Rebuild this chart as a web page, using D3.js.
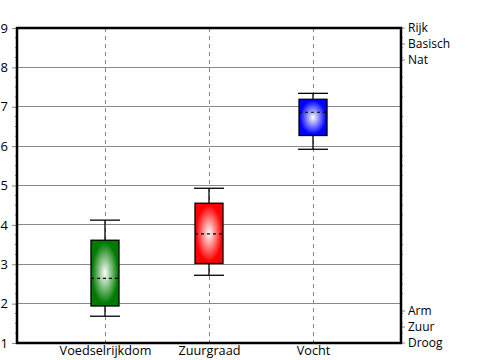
<!DOCTYPE html>
<html><head><meta charset="utf-8">
<script src="https://cdn.jsdelivr.net/npm/d3@7"></script>
<style>body{margin:0;background:#fff}svg{display:block}</style>
</head><body>
<svg id="c" width="500" height="360"></svg>
<script>
const categories = ["Voedselrijkdom", "Zuurgraad", "Vocht"];
const colors = ["#007a00", "#ff0000", "#0000ff"];
const whiskerLow = [1.68, 2.72, 5.92];
const q1 = [1.94, 3.02, 6.27];
const median = [2.64, 3.77, 6.86];
const q3 = [3.61, 4.55, 7.19];
const whiskerHigh = [4.12, 4.93, 7.34];
const yTicks = [1, 2, 3, 4, 5, 6, 7, 8, 9];
const rightTop = ["Rijk", "Basisch", "Nat"];
const rightBottom = ["Arm", "Zuur", "Droog"];

const svg = d3.select("#c");
const L = 17, R = 401, T = 28, B = 343;
const font = "'Open Sans', sans-serif";
const x = d3.scalePoint().domain(categories).range([L, R]).padding(0.846);
const y = d3.scaleLinear().domain([1, 9]).range([B, T]);

const defs = svg.append("defs");
colors.forEach((c, i) => {
  const g = defs.append("radialGradient").attr("id", "g" + i).attr("cx", "50%").attr("cy", "50%").attr("r", "55%");
  g.append("stop").attr("offset", "0%").attr("stop-color", "#ffffff");
  g.append("stop").attr("offset", "85%").attr("stop-color", c);
  g.append("stop").attr("offset", "100%").attr("stop-color", c);
});

// horizontal grid
svg.append("g").selectAll("line").data(yTicks.slice(1, -1)).join("line")
  .attr("x1", L).attr("x2", R).attr("y1", d => y(d)).attr("y2", d => y(d))
  .attr("stroke", "#888").attr("stroke-width", 1).attr("shape-rendering", "crispEdges");
// vertical dashed grid
svg.append("g").selectAll("line").data(categories).join("line")
  .attr("x1", d => Math.round(x(d)) + 0.5).attr("x2", d => Math.round(x(d)) + 0.5).attr("y1", T).attr("y2", B)
  .attr("stroke", "#888").attr("stroke-dasharray", "4,4").attr("stroke-width", 1);

// left axis
const yAxis = d3.axisLeft(y).tickValues(yTicks).tickSize(5).tickPadding(4).tickFormat(d3.format("d"));
const ga = svg.append("g").attr("transform", `translate(${L},0)`).call(yAxis);
ga.select(".domain").remove();
ga.selectAll(".tick line").attr("stroke", "#888");
ga.selectAll("text").attr("font-family", font).attr("font-size", 13).attr("fill", "#000");
// minor ticks
const minor = d3.range(1, 9.001, 0.25).filter(v => Math.abs(v - Math.round(v)) > 0.01);
svg.append("g").selectAll("line").data(minor).join("line")
  .attr("x1", L - 2).attr("x2", L).attr("y1", d => y(d)).attr("y2", d => y(d))
  .attr("stroke", "#888");
svg.append("g").selectAll("line").data(minor).join("line")
  .attr("x1", R).attr("x2", R + 2).attr("y1", d => y(d)).attr("y2", d => y(d))
  .attr("stroke", "#888");

// right labels
const rLabels = rightTop.map((t, i) => ({t, yy: T + i * 16})).concat(rightBottom.map((t, i) => ({t, yy: B - (2 - i) * 16})));
svg.append("g").selectAll("line").data(rLabels).join("line")
  .attr("x1", R).attr("x2", R + 4).attr("y1", d => d.yy).attr("y2", d => d.yy).attr("stroke", "#888");
svg.append("g").selectAll("text").data(rLabels).join("text")
  .attr("x", R + 7).attr("y", d => d.yy).attr("dy", "0.35em")
  .attr("font-family", font).attr("font-size", 12).text(d => d.t);

// x labels
const xAxis = d3.axisBottom(x).tickSize(0).tickPadding(3);
const gx = svg.append("g").attr("transform", `translate(0,${B})`).call(xAxis);
gx.select(".domain").remove();
gx.selectAll("text").attr("font-family", font).attr("font-size", 12.7).attr("fill", "#000");

// frame
svg.append("rect").attr("x", L).attr("y", T).attr("width", R - L).attr("height", B - T)
  .attr("fill", "none").attr("stroke", "#000").attr("stroke-width", 2.5);

// boxes
const bw = 28, cw = 30;
const boxes = svg.append("g").selectAll("g").data(categories).join("g");
boxes.append("line").attr("x1", d => x(d)).attr("x2", d => x(d))
  .attr("y1", (d, i) => y(whiskerHigh[i])).attr("y2", (d, i) => y(q3[i])).attr("stroke", "#000").attr("stroke-width", 1.3);
boxes.append("line").attr("x1", d => x(d)).attr("x2", d => x(d))
  .attr("y1", (d, i) => y(whiskerLow[i])).attr("y2", (d, i) => y(q1[i])).attr("stroke", "#000").attr("stroke-width", 1.3);
boxes.append("line").attr("x1", d => x(d) - cw / 2).attr("x2", d => x(d) + cw / 2)
  .attr("y1", (d, i) => y(whiskerHigh[i])).attr("y2", (d, i) => y(whiskerHigh[i])).attr("stroke", "#000").attr("stroke-width", 1.3);
boxes.append("line").attr("x1", d => x(d) - cw / 2).attr("x2", d => x(d) + cw / 2)
  .attr("y1", (d, i) => y(whiskerLow[i])).attr("y2", (d, i) => y(whiskerLow[i])).attr("stroke", "#000").attr("stroke-width", 1.3);
boxes.append("rect").attr("x", d => x(d) - bw / 2).attr("width", bw)
  .attr("y", (d, i) => y(q3[i])).attr("height", (d, i) => y(q1[i]) - y(q3[i]))
  .attr("fill", (d, i) => `url(#g${i})`).attr("stroke", "#000").attr("stroke-width", 1.3);
boxes.append("line").attr("x1", d => x(d) - bw / 2).attr("x2", d => x(d) + bw / 2)
  .attr("y1", (d, i) => y(median[i])).attr("y2", (d, i) => y(median[i]))
  .attr("stroke", "#000").attr("stroke-dasharray", "3,3").attr("stroke-width", 1.2);
</script>
</body></html>
